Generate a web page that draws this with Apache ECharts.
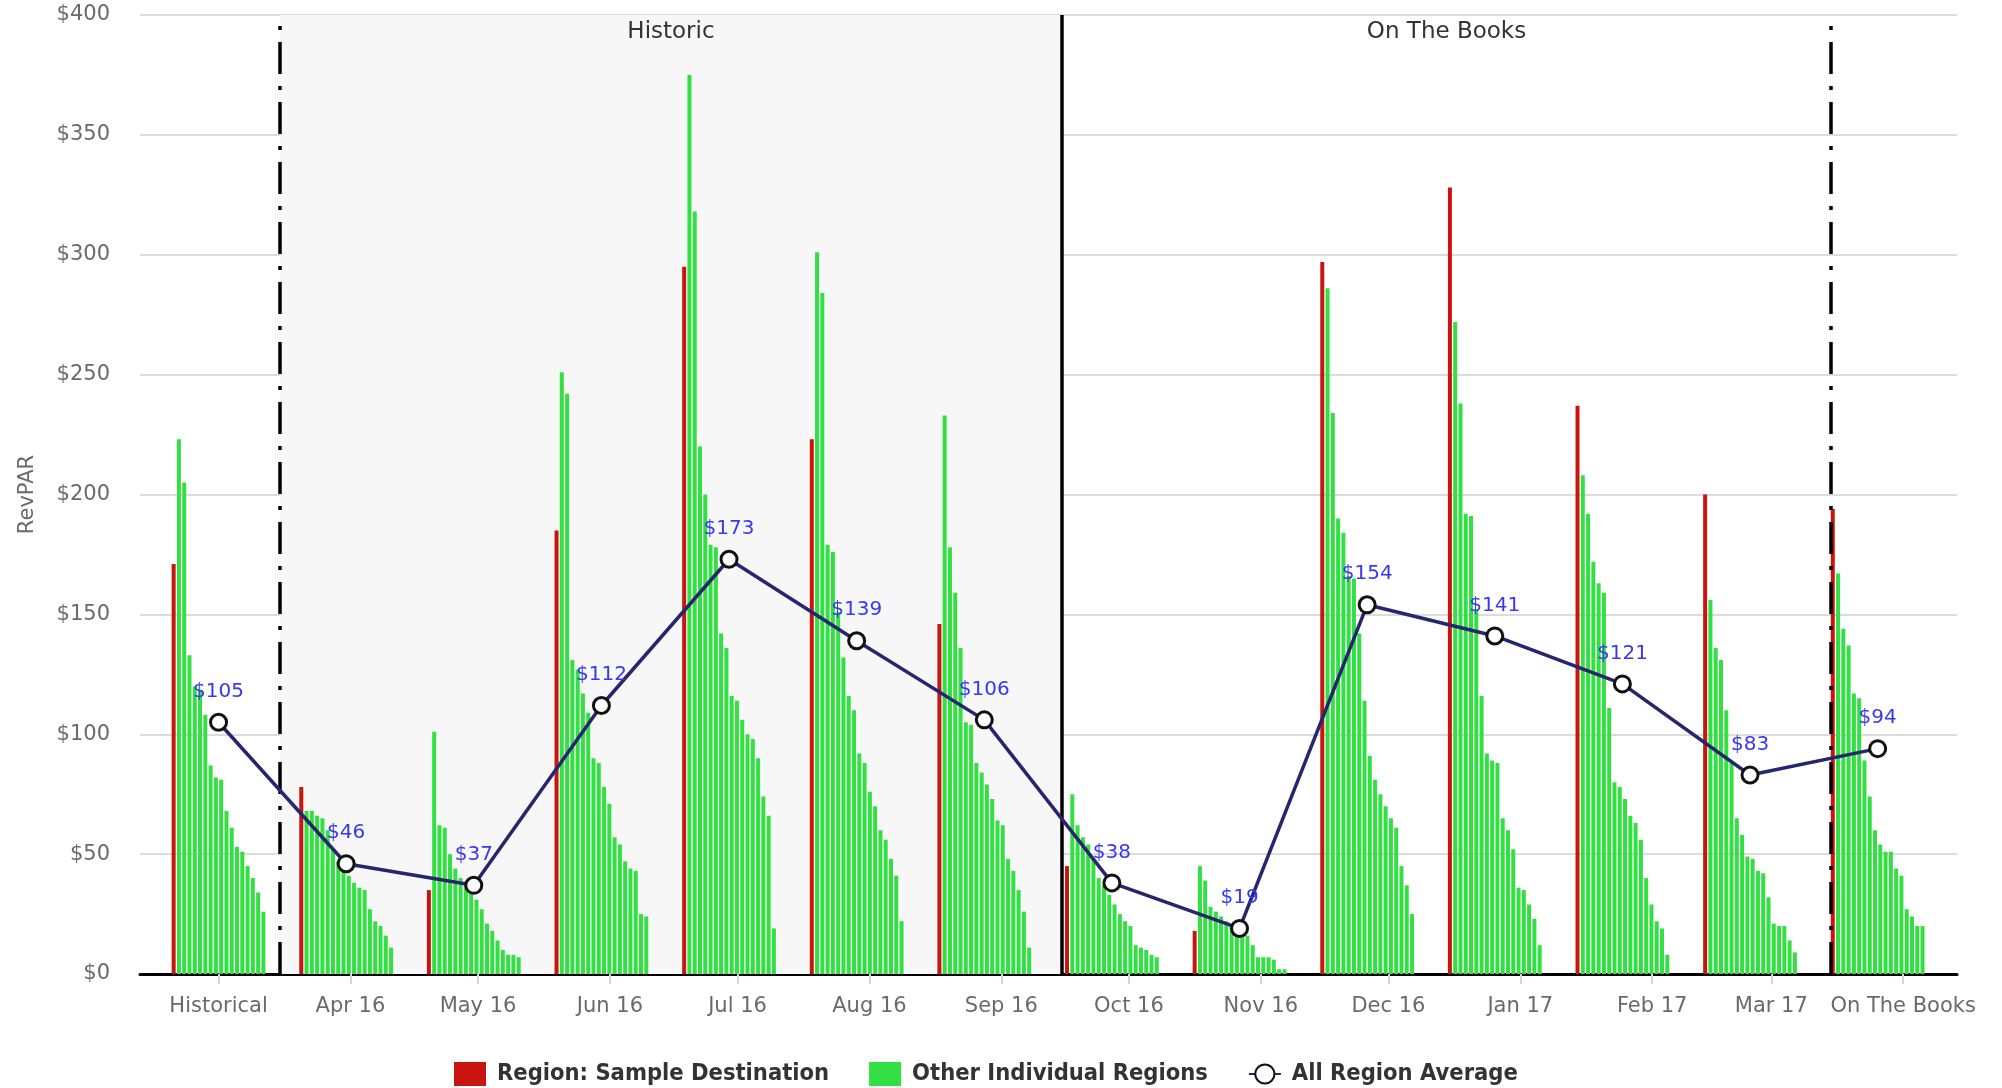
<!DOCTYPE html>
<html>
<head>
<meta charset="utf-8">
<script src="https://cdn.jsdelivr.net/npm/echarts@6/dist/echarts.min.js"></script>
<style>
html,body{margin:0;padding:0;background:#fff;}
#chart{width:2002px;height:1088px;}
</style>
</head>
<body>
<div id="chart"></div>
<script>
// ---- tick labels (month starts on a day axis, day 0 = 1 Mar 2016) ----
const categories = ['Historical','Apr 16','May 16','Jun 16','Jul 16','Aug 16','Sep 16','Oct 16','Nov 16','Dec 16','Jan 17','Feb 17','Mar 17','On The Books'];
const tickDays = [0,31,61,92,122,153,184,214,245,275,306,337,365,396];
// ---- point positions (days from 1 Mar 2016, 30-day interval) ----
const pointDays = [0,30,60,90,120,150,180,210,240,270,300,330,360,390];
// ---- divider positions (days) ----
const dividerDays = [14.4, 198.3, 379];

// ---- values ----
const sampleDestination = [171,78,35,185,295,223,146,45,18,297,328,237,200,194];
const allRegionAverage  = [105,46,37,112,173,139,106,38,19,154,141,121,83,94];

const otherHistorical = [223,205,133,120,118,108,87,82,81,68,61,53,51,45,40,34,26];
const otherApr16 = [68,68,66,65,60,52,47,43,41,38,36,35,27,22,20,16,11];
const otherMay16 = [101,62,61,50,44,40,38,36,31,27,21,18,14,10,8,8,7];
const otherJun16 = [251,242,131,127,117,109,90,88,78,71,57,54,47,44,43,25,24];
const otherJul16 = [375,318,220,200,179,178,142,136,116,114,106,100,98,90,74,66,19];
const otherAug16 = [301,284,179,176,151,132,116,110,92,88,76,70,60,56,48,41,22];
const otherSep16 = [233,178,159,136,105,104,88,84,79,73,64,62,48,43,35,26,11];
const otherOct16 = [75,62,57,54,48,40,37,33,29,25,22,20,12,11,10,8,7];
const otherNov16 = [45,39,28,26,24,22,20,19,18,16,12,7,7,7,6,2,2];
const otherDec16 = [286,234,190,184,166,165,142,114,91,81,75,70,65,61,45,37,25];
const otherJan17 = [272,238,192,191,152,116,92,89,88,65,60,52,36,35,29,23,12];
const otherFeb17 = [208,192,172,163,159,111,80,78,73,66,63,56,40,29,22,19,8];
const otherMar17 = [156,136,131,110,88,65,58,49,48,43,42,32,21,20,20,14,9];
const otherOTB   = [167,144,137,117,115,89,74,60,54,51,51,44,41,27,24,20,20];

const otherByCategory = [otherHistorical,otherApr16,otherMay16,otherJun16,otherJul16,otherAug16,otherSep16,otherOct16,otherNov16,otherDec16,otherJan17,otherFeb17,otherMar17,otherOTB];

const RED = '#c8150f', GREEN = '#33e043';
const BAR_W = 4, BAR_GAP = '32%';
const FONT = 'DejaVu Sans';

const series = [];
// plot band (behind everything)
series.push({
  type: 'line', data: [], z: 0, silent: true,
  markArea: {
    silent: true,
    label: {show: true, position: 'insideTop', distance: 6, color: '#333', fontSize: 23, fontFamily: FONT, formatter: '{b}'},
    data: [
      [{name: 'Historic', xAxis: dividerDays[0], itemStyle: {color: '#f7f7f7'}}, {xAxis: dividerDays[1]}],
      [{name: 'On The Books', xAxis: dividerDays[1], itemStyle: {color: 'rgba(255,255,255,0)'}}, {xAxis: dividerDays[2]}]
    ]
  }
});
series.push({
  name: 'Region: Sample Destination', type: 'bar', barWidth: BAR_W, barGap: BAR_GAP,
  itemStyle: {color: RED},
  data: pointDays.map((d, i) => [d, sampleDestination[i]])
});
for (let k = 0; k < 17; k++) {
  series.push({
    name: 'Other Individual Regions', type: 'bar', barWidth: BAR_W, barGap: BAR_GAP,
    itemStyle: {color: GREEN},
    data: pointDays.map((d, i) => [d, otherByCategory[i][k]])
  });
}
// divider lines
series.push({
  type: 'line', data: [], z: 8, silent: true,
  markLine: {
    silent: true, symbol: 'none', label: {show: false},
    data: [
      {xAxis: dividerDays[0], lineStyle: {color: '#000', width: 3.5, type: [32, 12, 4, 12]}},
      {xAxis: dividerDays[1], lineStyle: {color: '#000', width: 3.5, type: 'solid'}},
      {xAxis: dividerDays[2], lineStyle: {color: '#000', width: 3.5, type: [32, 12, 4, 12]}}
    ]
  }
});
series.push({
  name: 'All Region Average', type: 'line', z: 10,
  symbol: 'circle', symbolSize: 16,
  lineStyle: {color: '#26266e', width: 3.5},
  itemStyle: {color: '#fff', borderColor: '#111', borderWidth: 3},
  label: {show: true, position: 'top', distance: 11, color: '#3838f0', fontSize: 20, fontFamily: FONT,
    formatter: p => '$' + p.value[1]},
  data: pointDays.map((d, i) => [d, allRegionAverage[i]])
});

const chart = echarts.init(document.getElementById('chart'), null, {renderer: 'canvas'});
chart.setOption({
  animation: false,
  backgroundColor: '#fff',
  grid: {left: 140, right: 45, top: 15, bottom: 114},
  legend: {
    left: 449, top: 1057, itemGap: 40, itemWidth: 32, itemHeight: 24,
    textStyle: {fontFamily: 'DejaVu Sans Condensed', fontWeight: 'bold', fontSize: 23.5, color: '#333', padding: [0, 0, 0, 6]},
    data: [
      {name: 'Region: Sample Destination', icon: 'rect'},
      {name: 'Other Individual Regions', icon: 'rect'},
      {name: 'All Region Average'}
    ]
  },
  xAxis: {
    type: 'value', min: -18.46, max: 408.65,
    splitLine: {show: false},
    axisLine: {show: true, onZero: false, lineStyle: {color: '#000', width: 3}},
    axisTick: {show: true, length: 10, lineStyle: {color: '#ccd6eb', width: 2}, customValues: tickDays},
    axisLabel: {
      customValues: tickDays, margin: 22, fontSize: 21, color: '#6a6a6a', fontFamily: FONT,
      formatter: v => { const i = tickDays.findIndex(d => Math.abs(d - v) < 0.01); return i >= 0 ? categories[i] : ''; }
    }
  },
  yAxis: {
    type: 'value', min: 0, max: 400, interval: 50,
    name: 'RevPAR', nameLocation: 'middle', nameGap: 102, nameRotate: 90,
    nameTextStyle: {fontSize: 21, color: '#6a6a6a', fontFamily: FONT},
    axisLine: {show: false}, axisTick: {show: false},
    axisLabel: {margin: 30, fontSize: 21, color: '#6a6a6a', fontFamily: FONT, formatter: v => '$' + v},
    splitLine: {lineStyle: {color: '#d0d0d0', width: 1.5}}
  },
  series: series
});
</script>
</body>
</html>
